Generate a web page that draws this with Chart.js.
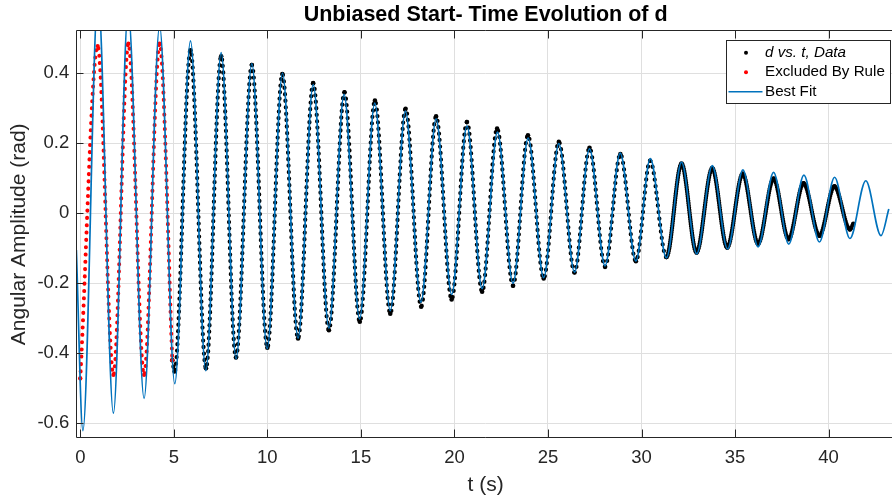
<!DOCTYPE html>
<html>
<head>
<meta charset="utf-8">
<style>
html,body{margin:0;padding:0;background:#fff;width:892px;height:502px;overflow:hidden}
#wrap{position:absolute;left:0;top:0;width:899px;height:502px}
canvas{display:block}
</style>
<script src="https://cdn.jsdelivr.net/npm/chart.js@4/dist/chart.umd.min.js"></script>
</head>
<body>
<div id="wrap"><canvas id="c" width="899" height="502" style="width:899px;height:502px"></canvas></div>
<script>
// ---- tick labels ----
const xTicks = [0, 5, 10, 15, 20, 25, 30, 35, 40];
const yTicks = [-0.6, -0.4, -0.2, 0, 0.2, 0.4];

// ---- Best Fit curve: turning points ----
const fitT = [-0.21, 0.14, 0.95, 1.77, 2.56, 3.41, 4.24, 5.05, 5.89, 6.71, 7.53, 8.33, 9.17, 9.99, 10.81, 11.64, 12.45, 13.29, 14.10, 14.93, 15.74, 16.57, 17.38, 18.21, 19.02, 19.85, 20.67, 21.48, 22.30, 23.13, 23.94, 24.77, 25.58, 26.42, 27.22, 28.05, 28.86, 29.70, 30.47, 31.33, 32.14, 32.95, 33.78, 34.60, 35.42, 36.23, 37.06, 37.87, 38.68, 39.51, 40.32, 41.14, 41.99, 42.80, 43.22];
const fitY = [-0.105, -0.621, 0.625, -0.571, 0.580, -0.529, 0.535, -0.487, 0.493, -0.450, 0.459, -0.416, 0.428, -0.387, 0.401, -0.357, 0.368, -0.328, 0.340, -0.302, 0.315, -0.278, 0.292, -0.254, 0.270, -0.232, 0.250, -0.215, 0.232, -0.200, 0.215, -0.184, 0.199, -0.168, 0.184, -0.150, 0.172, -0.136, 0.156, -0.127, 0.146, -0.116, 0.136, -0.102, 0.124, -0.096, 0.117, -0.088, 0.109, -0.082, 0.103, -0.072, 0.093, -0.064, 0.012];

// ---- d vs. t, Data (kept points) ----
const dataT = [4.92, 5.04, 5.89, 6.72, 7.53, 8.32, 9.17, 10.00, 10.80, 11.64, 12.45, 13.29, 14.12, 14.94, 15.75, 16.57, 17.39, 18.22, 19.02, 19.85, 20.67, 21.48, 22.28, 23.13, 23.93, 24.77, 25.58, 26.42, 27.22, 28.05, 28.87, 29.70, 30.46, 31.33, 32.14, 32.94, 33.78, 34.58, 35.41, 36.23, 37.06, 37.86, 38.66, 39.51, 40.31, 41.14, 41.32];
const dataY = [-0.420, -0.452, 0.466, -0.443, 0.449, -0.412, 0.424, -0.384, 0.398, -0.358, 0.372, -0.334, 0.346, -0.310, 0.322, -0.287, 0.299, -0.267, 0.277, -0.246, 0.261, -0.224, 0.242, -0.207, 0.223, -0.186, 0.204, -0.169, 0.187, -0.153, 0.169, -0.137, 0.150, -0.125, 0.142, -0.112, 0.129, -0.098, 0.113, -0.087, 0.099, -0.074, 0.086, -0.064, 0.077, -0.046, -0.030];

// ---- Excluded By Rule (first cycles) ----
const exclT = [0.00, 0.93, 1.77, 2.57, 3.41, 4.24, 4.92];
const exclY = [-0.472, 0.478, -0.462, 0.485, -0.462, 0.485, -0.420];

const FONT = "'Liberation Sans', Arial, Helvetica, sans-serif";
const AX = '#262626';
const zip = (a, b) => a.map((v, i) => ({x: v, y: b[i]}));

Chart.defaults.font.family = FONT;

const axesPlugin = {
  id: 'matlabAxes',
  afterDatasetsDraw(chart) {
    const {ctx, chartArea: a, scales: {x, y}} = chart;
    ctx.save();
    ctx.strokeStyle = AX;
    ctx.lineWidth = 1;
    ctx.beginPath();
    const L = Math.round(a.left) + 0.5, T = Math.round(a.top) + 0.5, B = Math.round(a.bottom) - 0.5;
    ctx.moveTo(L, T); ctx.lineTo(a.right, T);
    ctx.moveTo(L, T); ctx.lineTo(L, B);
    ctx.moveTo(L, B); ctx.lineTo(a.right, B);
    xTicks.forEach(v => {
      const px = Math.round(x.getPixelForValue(v)) + 0.5;
      ctx.moveTo(px, B); ctx.lineTo(px, B - 8);
      ctx.moveTo(px, T); ctx.lineTo(px, T + 8);
    });
    yTicks.forEach(v => {
      const py = Math.round(y.getPixelForValue(v)) + 0.5;
      ctx.moveTo(L, py); ctx.lineTo(L + 7, py);
    });
    ctx.stroke();
    ctx.restore();
  }
};

const legendPlugin = {
  id: 'boxLegend',
  afterDraw(chart) {
    const ctx = chart.ctx;
    const ds = chart.data.datasets;
    ctx.save();
    const bx = 726.5, by = 40.5, bw = 164, bh = 63;
    ctx.fillStyle = '#fff';
    ctx.fillRect(bx, by, bw, bh);
    ctx.strokeStyle = AX;
    ctx.lineWidth = 1;
    ctx.strokeRect(bx, by, bw, bh);
    const rows = [52.7, 72.3, 91.7];
    const textX = 765;
    ctx.textBaseline = 'middle';
    ctx.textAlign = 'left';
    ctx.fillStyle = '#000';
    ctx.beginPath(); ctx.arc(746, rows[0], 2, 0, Math.PI * 2); ctx.fill();
    ctx.font = 'italic 15.2px ' + FONT;
    ctx.fillText(ds[0].label, textX, rows[0]);
    ctx.fillStyle = '#ff0000';
    ctx.beginPath(); ctx.arc(746, rows[1], 2, 0, Math.PI * 2); ctx.fill();
    ctx.fillStyle = '#000';
    ctx.font = '15.2px ' + FONT;
    ctx.fillText(ds[1].label, textX, rows[1]);
    ctx.strokeStyle = '#0072BD';
    ctx.lineWidth = 1.6;
    ctx.beginPath(); ctx.moveTo(728.5, rows[2]); ctx.lineTo(762.5, rows[2]); ctx.stroke();
    ctx.fillText(ds[2].label, textX, rows[2]);
    ctx.restore();
  }
};

new Chart(document.getElementById('c'), {
  type: 'line',
  data: {
    datasets: [
      {
        label: 'd vs. t, Data',
        data: zip(dataT, dataY),
        order: 2,
        borderColor: '#000',
        borderWidth: 4.2,
        borderDash: [0.1, 6.4],
        borderCapStyle: 'round',
        cubicInterpolationMode: 'monotone',
        pointRadius: 2.3,
        pointBackgroundColor: '#000',
        pointBorderWidth: 0,
        segment: {
          borderDash: c => (c.p0.parsed.x >= 31.3 ? [0.1, 2.2] : undefined),
          borderWidth: c => (c.p0.parsed.x >= 31.3 ? 4.4 : undefined)
        }
      },
      {
        label: 'Excluded By Rule',
        data: zip(exclT, exclY),
        order: 1,
        borderColor: '#ff0000',
        borderWidth: 4,
        borderDash: [0.1, 7.2],
        borderCapStyle: 'round',
        cubicInterpolationMode: 'monotone',
        pointRadius: 2.1,
        pointBackgroundColor: '#ff0000',
        pointBorderWidth: 0
      },
      {
        label: 'Best Fit',
        data: zip(fitT, fitY),
        order: 0,
        borderColor: '#0072BD',
        borderWidth: 1.7,
        cubicInterpolationMode: 'monotone',
        pointRadius: 0,
        clip: 0
      }
    ]
  },
  options: {
    responsive: false,
    animation: false,
    devicePixelRatio: 1,
    layout: {padding: 0},
    plugins: {
      legend: {display: false},
      tooltip: {enabled: false},
      title: {
        display: true,
        text: 'Unbiased Start- Time Evolution of d',
        color: '#000',
        font: {size: 21.5, weight: 'bold', family: FONT},
        padding: {top: 2.3, bottom: 2.2},
        fullSize: false
      }
    },
    scales: {
      x: {
        type: 'linear',
        min: -0.213,
        max: 43.55,
        afterBuildTicks: s => { s.ticks = xTicks.map(v => ({value: v})); },
        afterFit: s => { s.height = 63.7; },
        ticks: {font: {size: 18.5}, color: AX, padding: 9, maxRotation: 0, autoSkip: false, callback: v => String(v)},
        grid: {color: '#dfdfdf', drawTicks: false, lineWidth: 1},
        border: {display: false},
        title: {display: true, text: 't (s)', color: AX, font: {size: 21}, padding: {top: 0, bottom: 4.5}}
      },
      y: {
        type: 'linear',
        min: -0.643,
        max: 0.523,
        afterBuildTicks: s => { s.ticks = yTicks.map(v => ({value: v})); },
        afterFit: s => { s.width = 76.3; },
        ticks: {font: {size: 18.5}, color: AX, padding: 7, autoSkip: false, callback: v => String(v)},
        grid: {color: '#dfdfdf', drawTicks: false, lineWidth: 1},
        border: {display: false},
        title: {display: true, text: 'Angular Amplitude (rad)', color: AX, font: {size: 21}, padding: {top: 6.8, bottom: 0}}
      }
    }
  },
  plugins: [axesPlugin, legendPlugin]
});
</script>
</body>
</html>
